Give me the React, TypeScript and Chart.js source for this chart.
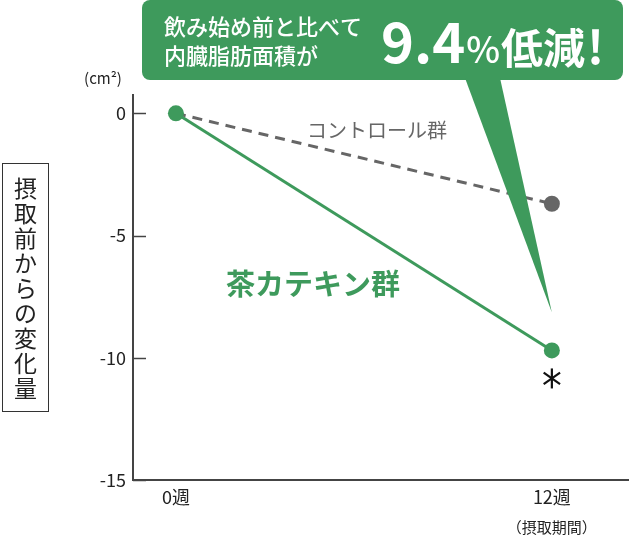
import { useEffect, useRef } from 'react'
import Chart from 'chart.js/auto'

const weeks = [0, 12]
const weekLabels = ['0週', '12週']
const periodNote = '（摂取期間）'
const catechin = [0, -9.7]
const control = [0, -3.7]
const yTicks = [0, -5, -10, -15]

const GREEN = '#3e9a5c'
const GRAY = '#666666'
const FONT = '"Noto Sans CJK JP", "Noto Sans", sans-serif'

const annotations = {
  id: 'annotations',
  afterDraw(chart: any) {
    const { ctx, scales } = chart
    const x = scales.x
    const y = scales.y
    ctx.save()

    // inward tick marks on the y axis
    ctx.strokeStyle = '#444'
    ctx.lineWidth = 1.5
    yTicks.forEach((v) => {
      const py = Math.round(y.getPixelForValue(v)) + 0.5
      ctx.beginPath()
      ctx.moveTo(x.left, py)
      ctx.lineTo(x.left + 13, py)
      ctx.stroke()
    })

    // unit
    ctx.fillStyle = '#222'
    ctx.font = `15px ${FONT}`
    ctx.textAlign = 'center'
    ctx.textBaseline = 'middle'
    ctx.fillText('(cm²)', 103, 78)

    // vertical axis title in a box
    ctx.strokeStyle = '#333'
    ctx.lineWidth = 1
    ctx.strokeRect(2.5, 163.5, 46, 248)
    ctx.font = `23px ${FONT}`
    const title = '摂取前からの変化量'
    Array.from(title).forEach((ch, i) => {
      ctx.fillText(ch, 25.5, 188 + i * 25)
    })

    // period note under 12 weeks
    ctx.font = `15px ${FONT}`
    ctx.fillText(periodNote, x.getPixelForValue(weeks[1]), 527)

    // series labels
    ctx.fillStyle = GRAY
    ctx.font = `20px ${FONT}`
    ctx.textAlign = 'left'
    ctx.fillText('コントロール群', 307, 130)
    ctx.fillStyle = GREEN
    ctx.font = `bold 29px ${FONT}`
    ctx.fillText('茶カテキン群', 226, 284)

    // significance mark
    const ax = x.getPixelForValue(weeks[1])
    const ay = y.getPixelForValue(catechin[1]) + 28
    ctx.strokeStyle = '#111'
    ctx.lineWidth = 2.2
    ;[90, 35, 145].forEach((deg) => {
      const r = (deg * Math.PI) / 180
      ctx.beginPath()
      ctx.moveTo(ax - 10 * Math.cos(r), ay - 10 * Math.sin(r))
      ctx.lineTo(ax + 10 * Math.cos(r), ay + 10 * Math.sin(r))
      ctx.stroke()
    })

    // callout bubble
    const tipX = x.getPixelForValue(weeks[1])
    const tipY = y.getPixelForValue(catechin[1]) - 38
    ctx.fillStyle = GREEN
    ctx.beginPath()
    ctx.roundRect(142, 0, 481, 80, 8)
    ctx.fill()
    ctx.beginPath()
    ctx.moveTo(465, 78)
    ctx.lineTo(500, 78)
    ctx.lineTo(tipX, tipY)
    ctx.closePath()
    ctx.fill()

    ctx.fillStyle = '#fff'
    ctx.textAlign = 'left'
    ctx.font = `500 22px ${FONT}`
    ctx.fillText('飲み始め前と比べて', 164, 27)
    ctx.fillText('内臓脂肪面積が', 164, 56)

    ctx.textBaseline = 'alphabetic'
    let cx = 381
    ctx.font = `bold 56px ${FONT}`
    ctx.fillText('9.4', cx, 63)
    cx += ctx.measureText('9.4').width + 1
    ctx.font = `500 36px ${FONT}`
    ctx.fillText('%', cx, 63)
    cx += ctx.measureText('%').width + 1
    ctx.font = `bold 42px ${FONT}`
    ctx.fillText('低減', cx, 64)
    cx += ctx.measureText('低減').width + 2
    ctx.font = `bold 46px ${FONT}`
    ctx.fillText('!', cx, 64)

    ctx.restore()
  },
}

export default function App() {
  const chartRef = useRef<HTMLCanvasElement>(null)
  const chartInstance = useRef<Chart | null>(null)

  useEffect(() => {
    document.body.style.margin = '0'
    if (chartRef.current) {
      const ctx = chartRef.current.getContext('2d')
      if (ctx) {
        if (chartInstance.current) {
          chartInstance.current.destroy()
        }

        chartInstance.current = new Chart(ctx, {
          type: 'line',
          data: {
            datasets: [
              {
                label: '茶カテキン群',
                data: weeks.map((w, i) => ({ x: w, y: catechin[i] })),
                borderColor: GREEN,
                backgroundColor: GREEN,
                borderWidth: 3,
                pointRadius: 8,
                pointBorderWidth: 0,
                pointBackgroundColor: GREEN,
              },
              {
                label: 'コントロール群',
                data: weeks.map((w, i) => ({ x: w, y: control[i] })),
                borderColor: GRAY,
                backgroundColor: GRAY,
                borderWidth: 3,
                borderDash: [10, 7],
                pointRadius: [0, 8],
                pointBorderWidth: 0,
                pointBackgroundColor: GRAY,
              },
            ],
          },
          options: {
            responsive: false,
            animation: false,
            layout: {
              autoPadding: false,
              padding: { top: 95, right: 2, left: 0, bottom: 0 },
            },
            plugins: {
              legend: { display: false },
              tooltip: { enabled: false },
            },
            scales: {
              x: {
                type: 'linear',
                min: -1.37,
                max: 14.43,
                afterBuildTicks: (scale: any) => {
                  scale.ticks = weeks.map((v) => ({ value: v }))
                },
                afterFit: (scale: any) => {
                  scale.height = 70
                },
                ticks: {
                  callback: (value: any) => weekLabels[weeks.indexOf(Number(value))],
                  color: '#222',
                  font: { family: FONT, size: 18 },
                  padding: 6,
                  maxRotation: 0,
                },
                grid: { display: false, drawTicks: false },
                border: { color: '#444', width: 2 },
              },
              y: {
                min: -15,
                max: 0.75,
                afterBuildTicks: (scale: any) => {
                  scale.ticks = yTicks.map((v) => ({ value: v }))
                },
                afterFit: (scale: any) => {
                  scale.width = 133
                },
                ticks: {
                  color: '#222',
                  font: { family: FONT, size: 18 },
                  padding: 7,
                },
                grid: { display: false, drawTicks: false },
                border: { color: '#444', width: 2 },
              },
            },
          },
          plugins: [annotations],
        })
      }
    }

    return () => {
      if (chartInstance.current) {
        chartInstance.current.destroy()
        chartInstance.current = null
      }
    }
  }, [])

  return (
    <div style={{ width: 630, height: 550, background: '#fff' }}>
      <canvas ref={chartRef} width={630} height={550}></canvas>
    </div>
  )
}
